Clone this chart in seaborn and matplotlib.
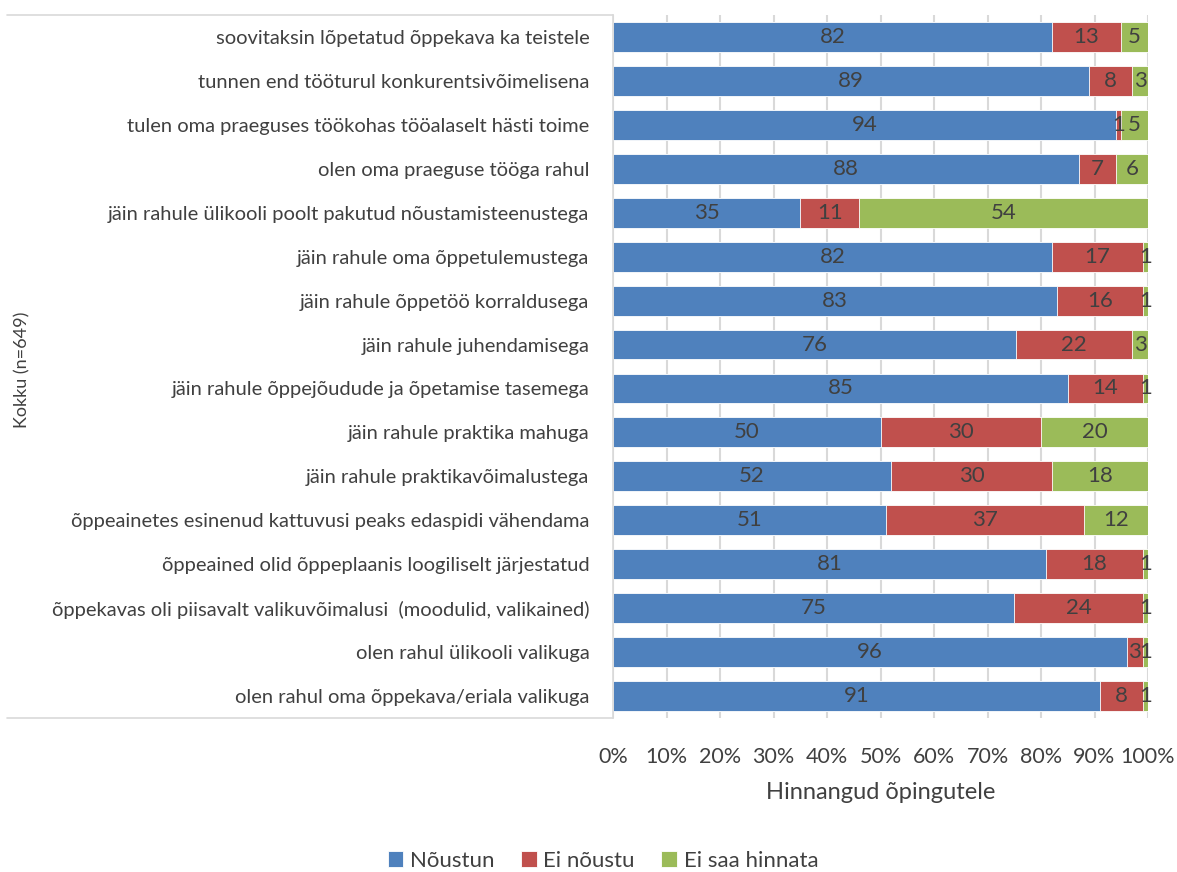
import matplotlib
matplotlib.use("Agg")
import matplotlib.pyplot as plt
from matplotlib.lines import Line2D
from matplotlib.ticker import FuncFormatter
import pandas as pd
import seaborn as sns

# --- data (percent of respondents, Kokku n=649) ---
categories = [
    "soovitaksin lõpetatud õppekava ka teistele",
    "tunnen end tööturul konkurentsivõimelisena",
    "tulen oma praeguses töökohas tööalaselt hästi toime",
    "olen oma praeguse tööga rahul",
    "jäin rahule ülikooli poolt pakutud nõustamisteenustega",
    "jäin rahule oma õppetulemustega",
    "jäin rahule õppetöö korraldusega",
    "jäin rahule juhendamisega",
    "jäin rahule õppejõudude ja õpetamise tasemega",
    "jäin rahule praktika mahuga",
    "jäin rahule praktikavõimalustega",
    "õppeainetes esinenud kattuvusi peaks edaspidi vähendama",
    "õppeained olid õppeplaanis loogiliselt järjestatud",
    "õppekavas oli piisavalt valikuvõimalusi  (moodulid, valikained)",
    "olen rahul ülikooli valikuga",
    "olen rahul oma õppekava/eriala valikuga",
]
noustun = [82, 89, 94, 88, 35, 82, 83, 76, 85, 50, 52, 51, 81, 75, 96, 91]
ei_noustu = [13, 8, 1, 7, 11, 17, 16, 22, 14, 30, 30, 37, 18, 24, 3, 8]
ei_saa_hinnata = [5, 3, 5, 6, 54, 1, 1, 3, 1, 20, 18, 12, 1, 1, 1, 1]

series_names = ["Nõustun", "Ei nõustu", "Ei saa hinnata"]
colors = ["#4F81BD", "#C0504D", "#9BBB59"]
text_color = "#404040"
grid_color = "#D9D9D9"

df = pd.DataFrame({
    "kategooria": categories,
    "Nõustun": noustun,
    "Ei nõustu": ei_noustu,
    "Ei saa hinnata": ei_saa_hinnata,
})

# 100% stacked: normalise each row, then cumulative sums
shares = df[series_names].div(df[series_names].sum(axis=1), axis=0) * 100
cum = shares.cumsum(axis=1)

sns.set_theme(style="white")
plt.rcParams["font.family"] = ["Lato", "DejaVu Sans"]

fig = plt.figure(figsize=(11.77, 8.72), dpi=100)
ax = fig.add_axes([613 / 1177, 1 - 718 / 872, 535 / 1177, 703 / 872])

# draw the longest (cumulative) bars first so each segment sits on top
for name, color in reversed(list(zip(series_names, colors))):
    plot_df = pd.DataFrame({"kategooria": categories, "kumul": cum[name].values})
    sns.barplot(data=plot_df, x="kumul", y="kategooria", orient="h",
                color=color, saturation=1, width=0.68, edgecolor="white",
                linewidth=0.6, label=name, ax=ax)

# value labels in the middle of each segment
for name in series_names:
    centers = cum[name] - shares[name] / 2
    for i, (c, v) in enumerate(zip(centers, df[name])):
        ax.text(c, i, f"{v}", ha="center", va="center",
                fontsize=16, color=text_color)

ax.set_xlim(0, 100)
ax.set_xticks(range(0, 101, 10))
ax.xaxis.set_major_formatter(FuncFormatter(lambda x, _: f"{x:.0f}%"))
ax.xaxis.grid(True, color=grid_color, linewidth=1.5)
ax.set_axisbelow(True)
for side in ["top", "right", "bottom"]:
    ax.spines[side].set_visible(False)
ax.spines["left"].set_color(grid_color)
ax.spines["left"].set_linewidth(1.2)

ax.tick_params(axis="y", length=0, pad=17, labelsize=14.5, labelcolor=text_color)
ax.tick_params(axis="x", length=0, pad=21, labelsize=15.5, labelcolor=text_color)
ax.set_ylabel("")
ax.set_xlabel("Hinnangud õpingutele", fontsize=17, color=text_color, labelpad=11)

# category box lines (top and bottom of the label area)
for yy in [15, 718]:
    fig.add_artist(Line2D([7 / 1177, 613 / 1177], [1 - yy / 872, 1 - yy / 872],
                          transform=fig.transFigure, color=grid_color, linewidth=1.2))

fig.text(22 / 1177, 1 - 370 / 872, "Kokku (n=649)", rotation=90,
         ha="center", va="center", fontsize=13, color=text_color)

handles, labels = ax.get_legend_handles_labels()
order = [labels.index(n) for n in series_names]
if ax.get_legend() is not None:
    ax.get_legend().remove()
fig.legend([handles[i] for i in order], series_names, loc="center",
           bbox_to_anchor=(603 / 1177, 1 - 861 / 872), ncol=3, frameon=False,
           fontsize=16, handlelength=0.7, handleheight=0.7, handletextpad=0.3,
           columnspacing=1.2, labelcolor=text_color)

fig.savefig("out.png", dpi=100)
